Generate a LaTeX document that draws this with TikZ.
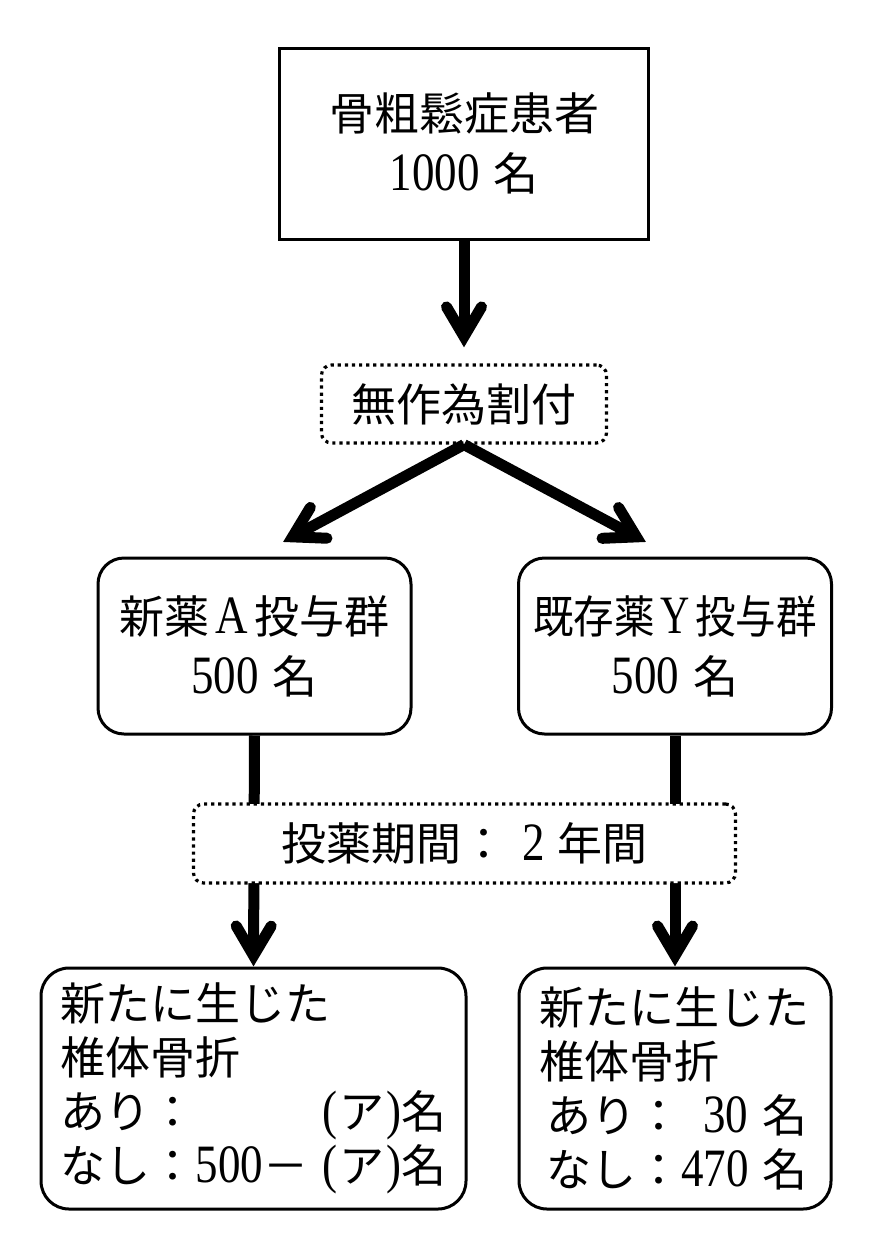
\documentclass[tikz,border=0pt]{standalone}
\usepackage{fontspec}
\usepackage{graphicx}
\setmainfont{Liberation Serif}
\newfontfamily\cjkf{Noto Sans CJK JP}
\newcommand\cj[1]{{\cjkf #1}}
\newcommand\nm[1]{\scalebox{1}[1.2]{#1}}
\newcommand\parA{\nm{(}\hspace{2pt}\cj{ア}\hspace{2pt}\nm{)}}
\pgfdeclarearrow{
  name = Chev,
  parameters = {},
  setup code = {
    \pgfarrowssettipend{0pt}
    \pgfarrowssetlineend{-12pt}
    \pgfarrowssetbackend{-46pt}
    \pgfarrowssetvisualbackend{-46pt}
    \pgfarrowshullpoint{0pt}{0pt}
    \pgfarrowsupperhullpoint{-46pt}{23pt}
  },
  drawing code = {
    \pgfsetlinewidth{11pt}
    \pgfsetroundcap
    \pgfsetmiterjoin
    \pgfpathmoveto{\pgfqpoint{-40.5pt}{17.5pt}}
    \pgfpathlineto{\pgfqpoint{-10.9pt}{0pt}}
    \pgfpathlineto{\pgfqpoint{-40.5pt}{-17.5pt}}
    \pgfusepathqstroke
  }
}
\tikzset{
  txt/.style={font=\fontsize{45}{60}\selectfont, align=center, inner sep=0pt},
  sqbox/.style={txt, draw, line width=3pt},
  rbox/.style={txt, draw, line width=3pt, rounded corners=26pt},
  dotbox/.style={txt, draw, fill=white, line width=3.2pt, dash pattern=on 3.2pt off 3.9pt, rounded corners=10pt},
  resbox/.style={draw, line width=3pt, rounded corners=28pt, inner sep=0pt,
    font=\fontsize{45}{54}\selectfont, align=left},
  conn/.style={line width=11pt, -Chev}
}
\begin{document}
\begin{tikzpicture}[x=1pt, y=-1pt]
\useasboundingbox[fill=white] (0,0) rectangle (878,1258);
\node[sqbox, minimum width=369pt, minimum height=191pt] (pat) at (464,143.5)
  {\cj{骨粗鬆症患者}\\\nm{1000}\hspace{14pt}\cj{名}};
\node[dotbox, minimum width=285pt, minimum height=78pt] (rand) at (464,404)
  {\cj{無作為割付}};
\node[rbox, minimum width=313pt, minimum height=176pt] (midL) at (254.5,646)
  {\cj{新薬}\makebox[45pt]{\nm{A}}\cj{投与群}\\\nm{500}\hspace{14pt}\cj{名}};
\node[rbox, minimum width=313pt, minimum height=176pt] (midR) at (675,646)
  {\scalebox{0.9}[1]{\cj{既存薬}\makebox[45pt]{\nm{Y}}\cj{投与群}}\\\nm{500}\hspace{14pt}\cj{名}};
\node[resbox, minimum width=425pt, minimum height=241pt, text width=386pt] (botL) at (253.5,1088.5)
  {\cj{新たに生じた}\\
   \cj{椎体骨折}\\
   \makebox[386pt][l]{\cj{あり：}\hfill\parA\cj{名}}\\
   \makebox[386pt][l]{\cj{なし：}\nm{500}\cj{－}\hfill\parA\cj{名}}};
\node[resbox, minimum width=312pt, minimum height=241pt, text width=272pt] (botR) at (675,1088.5)
  {\cj{新たに生じた}\\
   \cj{椎体骨折}\\
   \hspace*{7pt}\makebox[261pt][l]{\cj{あり：}\hfill\nm{30}\hspace{14pt}\cj{名}}\\
   \hspace*{7pt}\makebox[261pt][l]{\cj{なし：}\nm{470}\hfill\cj{名}}};
\coordinate (tipL) at (283,542);
\coordinate (tipR) at (646,542);
\draw[conn, shorten >=16pt] (pat.south) -- (rand.north);
\draw[conn] (rand.south) -- (tipL);
\draw[conn] (rand.south) -- (tipR);
\draw[conn] (midL.south) -- (botL.north);
\draw[conn] (midR.south) -- (botR.north);
\node[dotbox, minimum width=542pt, minimum height=79pt] (period) at (464.5,843.5)
  {\cj{投薬期間：}\hspace{16pt}\nm{2}\hspace{12pt}\cj{年間}};
\end{tikzpicture}
\end{document}
